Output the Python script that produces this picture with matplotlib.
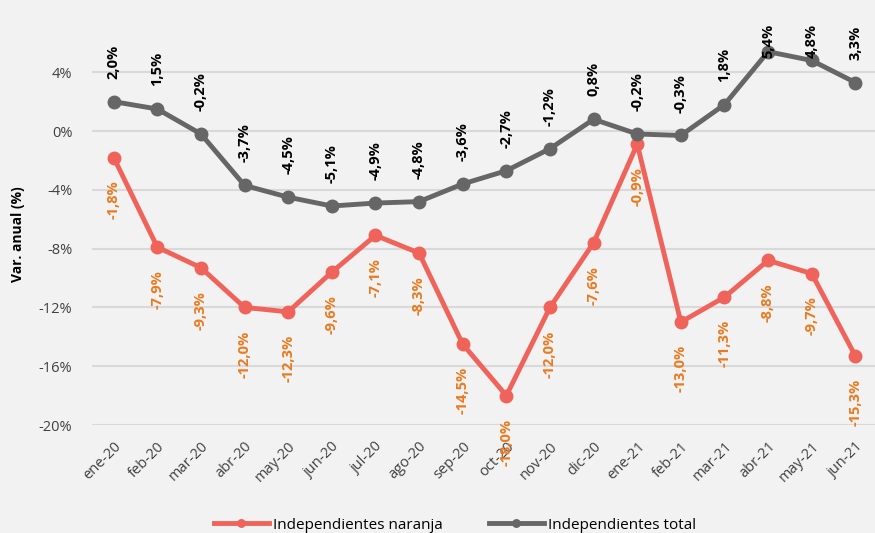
import matplotlib
matplotlib.use('Agg')
import matplotlib.pyplot as plt

meses = ['ene-20', 'feb-20', 'mar-20', 'abr-20', 'may-20', 'jun-20', 'jul-20', 'ago-20', 'sep-20',
         'oct-20', 'nov-20', 'dic-20', 'ene-21', 'feb-21', 'mar-21', 'abr-21', 'may-21', 'jun-21']
naranja = [-1.8, -7.9, -9.3, -12.0, -12.3, -9.6, -7.1, -8.3, -14.5,
           -18.0, -12.0, -7.6, -0.9, -13.0, -11.3, -8.8, -9.7, -15.3]
total = [2.0, 1.5, -0.2, -3.7, -4.5, -5.1, -4.9, -4.8, -3.6,
         -2.7, -1.2, 0.8, -0.2, -0.3, 1.8, 5.4, 4.8, 3.3]
yticks = [4, 0, -4, -8, -12, -16, -20]

plt.rcParams['font.family'] = ['Open Sans', 'DejaVu Sans']
plt.rcParams['axes.unicode_minus'] = False

bg = '#f2f2f2'
c_nar = '#f0635a'
c_tot = '#666666'
c_lab_nar = '#ea7a1e'

fig = plt.figure(figsize=(8.75, 5.33), dpi=100, facecolor=bg)
ax = fig.add_axes([0.105, 0.2026, 0.895, 0.717])
ax.set_facecolor(bg)

x = list(range(len(meses)))
ax.plot(x, naranja, color=c_nar, lw=3.5, marker='o', ms=9, label='Independientes naranja', zorder=3)
ax.plot(x, total, color=c_tot, lw=3.5, marker='o', ms=9, label='Independientes total', zorder=3)

# etiquetas de datos (las de arriba se limitan al borde superior del gráfico)
for i, v in enumerate(total):
    yl = min(v + 1.56, 4.97)
    ax.text(i, yl, f'{v:.1f}%'.replace('.', ','), rotation=90, ha='center', va='bottom',
            fontsize=10.5, fontweight='bold', color='black', zorder=4, clip_on=False)
for i, v in enumerate(naranja):
    ax.text(i, v - 1.56, f'{v:.1f}%'.replace('.', ','), rotation=90, ha='center', va='top',
            fontsize=10.5, fontweight='bold', color=c_lab_nar, zorder=4, clip_on=False)

ax.set_xlim(-0.5, 17.45)
ax.set_ylim(-20, 6)
ax.set_yticks(yticks)
ax.set_yticklabels([f'{t}%' for t in yticks], fontsize=10.5, color='#404040')
ax.set_xticks(x)
ax.set_xticklabels(meses, rotation=45, ha='right', rotation_mode='anchor', fontsize=10.5, color='#404040')
ax.tick_params(axis='x', length=0, pad=10)
ax.tick_params(axis='y', length=0, pad=14)
ax.grid(axis='y', color='#d9d9d9', lw=1.5)
ax.set_axisbelow(True)
for s in ax.spines.values():
    s.set_visible(False)
ax.set_ylabel('Var. anual (%)', fontsize=10, fontweight='bold', labelpad=10)

fig.legend(loc='lower center', bbox_to_anchor=(0.52, -0.025), ncol=2, frameon=False,
           fontsize=11, handlelength=3.6, columnspacing=3, handletextpad=0.3, markerscale=0.6)

fig.savefig('out.png', dpi=100, facecolor=bg)
